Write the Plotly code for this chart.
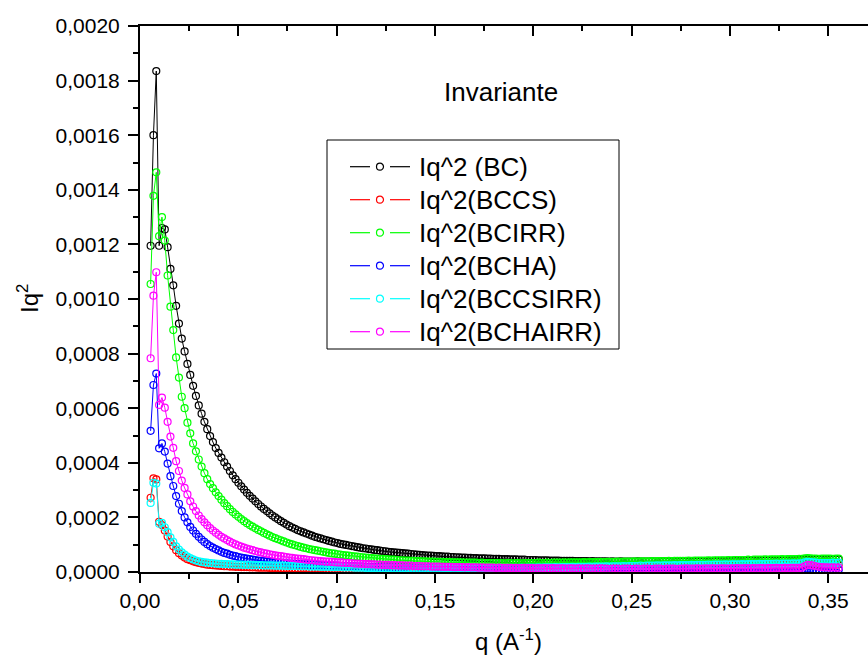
import plotly.graph_objects as go

# q values (A^-1)
q = [0.00540, 0.00684, 0.00828, 0.00972, 0.01116, 0.01260, 0.01404, 0.01548, 0.01692, 0.01836,
     0.01980, 0.02124, 0.02268, 0.02412, 0.02556, 0.02700, 0.02844, 0.02988, 0.03132, 0.03276,
     0.03420, 0.03564, 0.03708, 0.03852, 0.03996, 0.04140, 0.04284, 0.04428, 0.04572, 0.04716,
     0.04860, 0.05004, 0.05148, 0.05292, 0.05436, 0.05580, 0.05724, 0.05868, 0.06012, 0.06156,
     0.06300, 0.06444, 0.06588, 0.06732, 0.06876, 0.07020, 0.07164, 0.07308, 0.07452, 0.07596,
     0.07740, 0.07884, 0.08028, 0.08172, 0.08316, 0.08460, 0.08604, 0.08748, 0.08892, 0.09036,
     0.09180, 0.09324, 0.09468, 0.09612, 0.09756, 0.09900, 0.10044, 0.10188, 0.10332, 0.10476,
     0.10620, 0.10764, 0.10908, 0.11052, 0.11196, 0.11340, 0.11484, 0.11628, 0.11772, 0.11916,
     0.12060, 0.12204, 0.12348, 0.12492, 0.12636, 0.12780, 0.12924, 0.13068, 0.13212, 0.13356,
     0.13500, 0.13644, 0.13788, 0.13932, 0.14076, 0.14220, 0.14364, 0.14508, 0.14652, 0.14796,
     0.14940, 0.15084, 0.15228, 0.15372, 0.15516, 0.15660, 0.15804, 0.15948, 0.16092, 0.16236,
     0.16380, 0.16524, 0.16668, 0.16812, 0.16956, 0.17100, 0.17244, 0.17388, 0.17532, 0.17676,
     0.17820, 0.17964, 0.18108, 0.18252, 0.18396, 0.18540, 0.18684, 0.18828, 0.18972, 0.19116,
     0.19260, 0.19404, 0.19548, 0.19692, 0.19836, 0.19980, 0.20124, 0.20268, 0.20412, 0.20556,
     0.20700, 0.20844, 0.20988, 0.21132, 0.21276, 0.21420, 0.21564, 0.21708, 0.21852, 0.21996,
     0.22140, 0.22284, 0.22428, 0.22572, 0.22716, 0.22860, 0.23004, 0.23148, 0.23292, 0.23436,
     0.23580, 0.23724, 0.23868, 0.24012, 0.24156, 0.24300, 0.24444, 0.24588, 0.24732, 0.24876,
     0.25020, 0.25164, 0.25308, 0.25452, 0.25596, 0.25740, 0.25884, 0.26028, 0.26172, 0.26316,
     0.26460, 0.26604, 0.26748, 0.26892, 0.27036, 0.27180, 0.27324, 0.27468, 0.27612, 0.27756,
     0.27900, 0.28044, 0.28188, 0.28332, 0.28476, 0.28620, 0.28764, 0.28908, 0.29052, 0.29196,
     0.29340, 0.29484, 0.29628, 0.29772, 0.29916, 0.30060, 0.30204, 0.30348, 0.30492, 0.30636,
     0.30780, 0.30924, 0.31068, 0.31212, 0.31356, 0.31500, 0.31644, 0.31788, 0.31932, 0.32076,
     0.32220, 0.32364, 0.32508, 0.32652, 0.32796, 0.32940, 0.33084, 0.33228, 0.33372, 0.33516,
     0.33660, 0.33804, 0.33948, 0.34092, 0.34236, 0.34380, 0.34524, 0.34668, 0.34812, 0.34956,
     0.35100, 0.35244, 0.35388, 0.35532]

# Iq^2 values in units of 1e-4
iq2_bc = [11.95, 16.00, 18.35, 11.95, 12.60, 12.55, 11.90, 11.10, 10.50, 9.75,
          9.10, 8.55, 8.08, 7.62, 7.22, 6.82, 6.45, 6.10, 5.80, 5.50,
          5.23, 4.98, 4.76, 4.54, 4.36, 4.19, 4.02, 3.86, 3.70, 3.54,
          3.40, 3.27, 3.14, 3.02, 2.90, 2.79, 2.69, 2.59, 2.49, 2.40,
          2.31, 2.23, 2.15, 2.07, 2.00, 1.93, 1.86, 1.80, 1.74, 1.68,
          1.63, 1.58, 1.53, 1.49, 1.45, 1.41, 1.37, 1.33, 1.29, 1.26,
          1.23, 1.20, 1.17, 1.14, 1.11, 1.08, 1.06, 1.03, 1.01, 0.99,
          0.97, 0.95, 0.93, 0.91, 0.89, 0.87, 0.86, 0.84, 0.83, 0.81,
          0.80, 0.78, 0.77, 0.76, 0.74, 0.73, 0.72, 0.71, 0.70, 0.69,
          0.68, 0.67, 0.66, 0.65, 0.64, 0.63, 0.62, 0.61, 0.60, 0.60,
          0.59, 0.58, 0.58, 0.57, 0.56, 0.56, 0.55, 0.55, 0.54, 0.54,
          0.53, 0.53, 0.52, 0.52, 0.51, 0.51, 0.50, 0.50, 0.50, 0.49,
          0.49, 0.48, 0.48, 0.48, 0.47, 0.47, 0.47, 0.46, 0.46, 0.46,
          0.45, 0.45, 0.45, 0.44, 0.44, 0.44, 0.44, 0.43, 0.43, 0.43,
          0.43, 0.42, 0.42, 0.42, 0.42, 0.41, 0.41, 0.41, 0.41, 0.41,
          0.40, 0.40, 0.40, 0.40, 0.40, 0.39, 0.40, 0.39, 0.39, 0.39,
          0.39, 0.39, 0.38, 0.39, 0.38, 0.38, 0.39, 0.38, 0.38, 0.38,
          0.38, 0.38, 0.39, 0.38, 0.38, 0.38, 0.38, 0.39, 0.38, 0.38,
          0.38, 0.39, 0.38, 0.39, 0.38, 0.39, 0.39, 0.38, 0.39, 0.39,
          0.39, 0.39, 0.40, 0.39, 0.39, 0.40, 0.39, 0.40, 0.40, 0.40,
          0.40, 0.40, 0.41, 0.40, 0.41, 0.40, 0.41, 0.41, 0.41, 0.41,
          0.41, 0.42, 0.41, 0.42, 0.41, 0.42, 0.42, 0.42, 0.42, 0.43,
          0.42, 0.43, 0.42, 0.43, 0.43, 0.43, 0.43, 0.44, 0.43, 0.44,
          0.44, 0.46, 0.47, 0.46, 0.45, 0.45, 0.45, 0.45, 0.45, 0.46,
          0.45, 0.46, 0.46, 0.46]

iq2_bccs = [2.72, 3.43, 3.39, 1.84, 1.72, 1.52, 1.30, 1.10, 0.94, 0.80,
            0.69, 0.60, 0.53, 0.47, 0.43, 0.39, 0.36, 0.33, 0.31, 0.29,
            0.27, 0.26, 0.25, 0.24, 0.23, 0.22, 0.21, 0.21, 0.20, 0.20,
            0.19, 0.19, 0.18, 0.18, 0.18, 0.17, 0.17, 0.17, 0.16, 0.16,
            0.16, 0.16, 0.15, 0.15, 0.15, 0.15, 0.14, 0.14, 0.14, 0.14,
            0.14, 0.13, 0.13, 0.13, 0.13, 0.13, 0.12, 0.12, 0.12, 0.12,
            0.12, 0.12, 0.11, 0.11, 0.11, 0.11, 0.11, 0.11, 0.10, 0.10,
            0.10, 0.10, 0.10, 0.10, 0.10, 0.10, 0.09, 0.09, 0.09, 0.09,
            0.09, 0.09, 0.09, 0.09, 0.09, 0.09, 0.09, 0.09, 0.09, 0.09,
            0.09, 0.09, 0.09, 0.09, 0.09, 0.09, 0.09, 0.09, 0.09, 0.09,
            0.09, 0.09, 0.09, 0.09, 0.09, 0.10, 0.09, 0.10, 0.10, 0.10,
            0.10, 0.10, 0.10, 0.10, 0.10, 0.10, 0.11, 0.10, 0.11, 0.11,
            0.11, 0.11, 0.11, 0.11, 0.11, 0.12, 0.11, 0.12, 0.12, 0.12,
            0.12, 0.12, 0.12, 0.12, 0.13, 0.12, 0.13, 0.13, 0.13, 0.13,
            0.13, 0.13, 0.14, 0.13, 0.14, 0.14, 0.14, 0.14, 0.14, 0.15,
            0.14, 0.15, 0.15, 0.15, 0.15, 0.15, 0.16, 0.15, 0.16, 0.16,
            0.16, 0.16, 0.16, 0.17, 0.16, 0.17, 0.17, 0.17, 0.17, 0.17,
            0.18, 0.17, 0.18, 0.18, 0.18, 0.18, 0.18, 0.19, 0.18, 0.19,
            0.19, 0.19, 0.19, 0.19, 0.20, 0.19, 0.20, 0.20, 0.20, 0.20,
            0.20, 0.21, 0.20, 0.21, 0.21, 0.21, 0.21, 0.21, 0.22, 0.21,
            0.22, 0.22, 0.22, 0.22, 0.22, 0.23, 0.22, 0.23, 0.23, 0.23,
            0.23, 0.23, 0.24, 0.23, 0.24, 0.24, 0.24, 0.24, 0.24, 0.25,
            0.24, 0.25, 0.25, 0.25, 0.25, 0.25, 0.26, 0.25, 0.26, 0.26,
            0.26, 0.29, 0.31, 0.30, 0.29, 0.28, 0.27, 0.27, 0.27, 0.27,
            0.27, 0.28, 0.27, 0.28]

iq2_bcirr = [10.55, 13.78, 14.64, 12.30, 13.00, 12.14, 10.86, 9.72, 8.86, 7.86,
             7.12, 6.42, 6.00, 5.47, 5.08, 4.71, 4.42, 4.12, 3.86, 3.62,
             3.40, 3.22, 3.07, 2.92, 2.78, 2.65, 2.52, 2.41, 2.30, 2.20,
             2.11, 2.02, 1.94, 1.86, 1.79, 1.72, 1.66, 1.60, 1.54, 1.49,
             1.43, 1.38, 1.33, 1.28, 1.24, 1.20, 1.16, 1.12, 1.08, 1.04,
             1.01, 0.98, 0.95, 0.92, 0.89, 0.87, 0.84, 0.82, 0.80, 0.78,
             0.76, 0.74, 0.72, 0.70, 0.68, 0.67, 0.65, 0.64, 0.62, 0.61,
             0.60, 0.58, 0.57, 0.56, 0.55, 0.54, 0.53, 0.52, 0.51, 0.50,
             0.49, 0.48, 0.48, 0.47, 0.46, 0.45, 0.45, 0.44, 0.43, 0.43,
             0.42, 0.42, 0.41, 0.41, 0.40, 0.40, 0.39, 0.39, 0.38, 0.38,
             0.38, 0.37, 0.37, 0.37, 0.36, 0.36, 0.36, 0.35, 0.35, 0.35,
             0.35, 0.34, 0.34, 0.34, 0.34, 0.34, 0.33, 0.34, 0.33, 0.33,
             0.33, 0.33, 0.33, 0.33, 0.33, 0.32, 0.33, 0.33, 0.32, 0.33,
             0.33, 0.32, 0.33, 0.33, 0.33, 0.33, 0.33, 0.34, 0.33, 0.33,
             0.34, 0.33, 0.34, 0.34, 0.34, 0.34, 0.35, 0.34, 0.35, 0.35,
             0.35, 0.35, 0.35, 0.36, 0.35, 0.36, 0.36, 0.36, 0.36, 0.37,
             0.36, 0.37, 0.37, 0.37, 0.37, 0.38, 0.37, 0.38, 0.38, 0.38,
             0.38, 0.39, 0.38, 0.39, 0.39, 0.39, 0.39, 0.40, 0.39, 0.40,
             0.40, 0.40, 0.40, 0.41, 0.40, 0.41, 0.41, 0.41, 0.41, 0.41,
             0.42, 0.41, 0.42, 0.42, 0.42, 0.42, 0.42, 0.43, 0.42, 0.43,
             0.43, 0.43, 0.43, 0.43, 0.44, 0.43, 0.44, 0.44, 0.44, 0.44,
             0.44, 0.45, 0.44, 0.45, 0.45, 0.45, 0.45, 0.46, 0.45, 0.46,
             0.46, 0.46, 0.46, 0.47, 0.46, 0.47, 0.47, 0.47, 0.47, 0.48,
             0.48, 0.50, 0.51, 0.50, 0.49, 0.49, 0.48, 0.49, 0.49, 0.49,
             0.49, 0.48, 0.49, 0.49]

iq2_bcha = [5.17, 6.85, 7.27, 4.53, 4.71, 4.41, 3.97, 3.51, 3.15, 2.78,
            2.50, 2.23, 2.00, 1.82, 1.65, 1.52, 1.40, 1.29, 1.19, 1.10,
            1.02, 0.95, 0.89, 0.84, 0.79, 0.74, 0.70, 0.67, 0.63, 0.60,
            0.58, 0.55, 0.53, 0.51, 0.49, 0.47, 0.45, 0.44, 0.42, 0.41,
            0.40, 0.38, 0.37, 0.36, 0.35, 0.34, 0.34, 0.33, 0.32, 0.31,
            0.31, 0.30, 0.29, 0.29, 0.28, 0.28, 0.27, 0.27, 0.26, 0.26,
            0.25, 0.25, 0.24, 0.24, 0.24, 0.23, 0.23, 0.22, 0.22, 0.22,
            0.21, 0.21, 0.21, 0.20, 0.20, 0.20, 0.19, 0.19, 0.19, 0.18,
            0.18, 0.18, 0.17, 0.17, 0.17, 0.16, 0.16, 0.16, 0.15, 0.15,
            0.15, 0.14, 0.14, 0.14, 0.13, 0.13, 0.13, 0.12, 0.12, 0.12,
            0.11, 0.11, 0.11, 0.10, 0.10, 0.10, 0.10, 0.09, 0.09, 0.09,
            0.09, 0.08, 0.08, 0.08, 0.08, 0.08, 0.07, 0.07, 0.07, 0.07,
            0.07, 0.07, 0.06, 0.07, 0.06, 0.06, 0.06, 0.06, 0.06, 0.06,
            0.06, 0.05, 0.06, 0.06, 0.05, 0.06, 0.05, 0.06, 0.05, 0.05,
            0.06, 0.05, 0.05, 0.06, 0.05, 0.05, 0.05, 0.06, 0.05, 0.05,
            0.05, 0.05, 0.06, 0.05, 0.05, 0.05, 0.05, 0.06, 0.05, 0.05,
            0.05, 0.06, 0.05, 0.05, 0.06, 0.05, 0.05, 0.06, 0.05, 0.06,
            0.05, 0.06, 0.05, 0.06, 0.06, 0.05, 0.06, 0.06, 0.05, 0.06,
            0.06, 0.06, 0.05, 0.06, 0.06, 0.06, 0.06, 0.05, 0.06, 0.06,
            0.06, 0.06, 0.07, 0.06, 0.06, 0.06, 0.07, 0.06, 0.06, 0.07,
            0.06, 0.07, 0.06, 0.07, 0.07, 0.06, 0.07, 0.07, 0.07, 0.06,
            0.07, 0.07, 0.07, 0.07, 0.08, 0.07, 0.07, 0.07, 0.08, 0.07,
            0.08, 0.07, 0.08, 0.08, 0.08, 0.08, 0.08, 0.08, 0.08, 0.09,
            0.09, 0.11, 0.12, 0.11, 0.10, 0.09, 0.09, 0.09, 0.09, 0.09,
            0.09, 0.09, 0.10, 0.09]

iq2_bccsirr = [2.53, 3.27, 3.24, 1.77, 1.80, 1.64, 1.46, 1.27, 1.10, 0.94,
               0.82, 0.72, 0.64, 0.56, 0.51, 0.46, 0.42, 0.39, 0.37, 0.35,
               0.34, 0.33, 0.32, 0.31, 0.30, 0.30, 0.29, 0.29, 0.28, 0.28,
               0.27, 0.27, 0.27, 0.26, 0.26, 0.26, 0.25, 0.25, 0.25, 0.25,
               0.24, 0.24, 0.24, 0.24, 0.23, 0.23, 0.23, 0.23, 0.22, 0.22,
               0.22, 0.22, 0.21, 0.21, 0.21, 0.21, 0.20, 0.20, 0.20, 0.20,
               0.19, 0.19, 0.19, 0.19, 0.18, 0.18, 0.18, 0.18, 0.17, 0.17,
               0.17, 0.17, 0.16, 0.16, 0.16, 0.16, 0.15, 0.15, 0.15, 0.15,
               0.15, 0.14, 0.14, 0.14, 0.14, 0.14, 0.13, 0.13, 0.13, 0.13,
               0.13, 0.13, 0.12, 0.12, 0.12, 0.12, 0.12, 0.12, 0.12, 0.12,
               0.12, 0.12, 0.12, 0.12, 0.12, 0.12, 0.12, 0.12, 0.12, 0.13,
               0.12, 0.13, 0.13, 0.13, 0.13, 0.13, 0.13, 0.14, 0.13, 0.14,
               0.14, 0.14, 0.14, 0.14, 0.15, 0.14, 0.15, 0.15, 0.15, 0.15,
               0.15, 0.16, 0.15, 0.16, 0.16, 0.16, 0.16, 0.17, 0.16, 0.17,
               0.17, 0.17, 0.17, 0.18, 0.17, 0.18, 0.18, 0.18, 0.18, 0.19,
               0.18, 0.19, 0.19, 0.19, 0.19, 0.20, 0.19, 0.20, 0.20, 0.20,
               0.20, 0.21, 0.20, 0.21, 0.21, 0.21, 0.21, 0.22, 0.21, 0.22,
               0.22, 0.22, 0.22, 0.23, 0.22, 0.23, 0.23, 0.23, 0.23, 0.24,
               0.23, 0.24, 0.24, 0.24, 0.24, 0.25, 0.24, 0.25, 0.25, 0.25,
               0.25, 0.26, 0.25, 0.26, 0.26, 0.26, 0.26, 0.27, 0.26, 0.27,
               0.27, 0.27, 0.27, 0.28, 0.27, 0.28, 0.28, 0.28, 0.28, 0.29,
               0.28, 0.29, 0.29, 0.29, 0.29, 0.30, 0.29, 0.30, 0.30, 0.30,
               0.30, 0.31, 0.30, 0.31, 0.31, 0.31, 0.31, 0.32, 0.31, 0.32,
               0.32, 0.35, 0.37, 0.36, 0.35, 0.34, 0.33, 0.33, 0.33, 0.33,
               0.33, 0.34, 0.33, 0.34]

iq2_bchairr = [7.83, 10.12, 10.98, 6.12, 6.39, 6.02, 5.50, 4.96, 4.55, 4.06,
               3.70, 3.35, 3.08, 2.84, 2.59, 2.40, 2.23, 2.07, 1.94, 1.82,
               1.71, 1.61, 1.52, 1.44, 1.36, 1.29, 1.23, 1.17, 1.11, 1.06,
               1.01, 0.97, 0.93, 0.89, 0.86, 0.83, 0.80, 0.77, 0.74, 0.72,
               0.69, 0.67, 0.65, 0.63, 0.61, 0.59, 0.58, 0.56, 0.55, 0.53,
               0.52, 0.50, 0.49, 0.48, 0.47, 0.45, 0.44, 0.43, 0.42, 0.41,
               0.40, 0.39, 0.38, 0.38, 0.37, 0.36, 0.35, 0.35, 0.34, 0.33,
               0.33, 0.32, 0.31, 0.31, 0.30, 0.30, 0.29, 0.29, 0.28, 0.28,
               0.27, 0.27, 0.26, 0.26, 0.26, 0.25, 0.25, 0.24, 0.24, 0.24,
               0.23, 0.23, 0.23, 0.22, 0.22, 0.22, 0.21, 0.21, 0.21, 0.20,
               0.20, 0.20, 0.20, 0.19, 0.19, 0.19, 0.19, 0.18, 0.18, 0.18,
               0.18, 0.17, 0.18, 0.17, 0.17, 0.17, 0.16, 0.17, 0.16, 0.16,
               0.16, 0.16, 0.15, 0.16, 0.15, 0.15, 0.15, 0.15, 0.14, 0.15,
               0.14, 0.14, 0.15, 0.14, 0.14, 0.14, 0.13, 0.14, 0.13, 0.14,
               0.13, 0.13, 0.14, 0.13, 0.13, 0.13, 0.13, 0.12, 0.13, 0.13,
               0.12, 0.13, 0.12, 0.12, 0.13, 0.12, 0.12, 0.12, 0.12, 0.13,
               0.12, 0.12, 0.11, 0.12, 0.12, 0.12, 0.11, 0.12, 0.12, 0.12,
               0.11, 0.12, 0.12, 0.11, 0.12, 0.12, 0.12, 0.11, 0.12, 0.12,
               0.12, 0.11, 0.12, 0.12, 0.12, 0.12, 0.11, 0.12, 0.12, 0.13,
               0.12, 0.12, 0.12, 0.13, 0.12, 0.12, 0.13, 0.12, 0.13, 0.13,
               0.12, 0.13, 0.13, 0.13, 0.12, 0.13, 0.13, 0.14, 0.13, 0.13,
               0.14, 0.13, 0.13, 0.14, 0.13, 0.14, 0.14, 0.13, 0.14, 0.14,
               0.14, 0.15, 0.14, 0.14, 0.15, 0.14, 0.15, 0.15, 0.15, 0.15,
               0.16, 0.22, 0.26, 0.25, 0.23, 0.21, 0.19, 0.18, 0.17, 0.17,
               0.16, 0.17, 0.16, 0.16]

names = ["Iq^2 (BC)", "Iq^2(BCCS)", "Iq^2(BCIRR)", "Iq^2(BCHA)", "Iq^2(BCCSIRR)", "Iq^2(BCHAIRR)"]
series = [iq2_bc, iq2_bccs, iq2_bcirr, iq2_bcha, iq2_bccsirr, iq2_bchairr]
colors = ["#000000", "#FF0000", "#00FF00", "#0000FF", "#00FFFF", "#FF00FF"]

FONT = "Liberation Sans, Arial, sans-serif"

# plot area in pixels (for placing the hand-drawn legend box)
PL, PR, PT, PB = 140, 868, 26, 572


def px(xpix):
    return (xpix - PL) / (PR - PL)


def py(ypix):
    return (PB - ypix) / (PB - PT)


fig = go.Figure()
for name, vals, col in zip(names, series, colors):
    n = min(len(q), len(vals))
    fig.add_trace(go.Scatter(
        x=q[:n], y=[v * 1e-4 for v in vals[:n]],
        mode="lines+markers", name=name, showlegend=False,
        line=dict(color=col, width=1),
        marker=dict(symbol="circle-open", size=7, color=col, line=dict(width=1.2, color=col)),
    ))

# invisible trace for top mirror axis
fig.add_trace(go.Scatter(x=[0.1], y=[0.001], xaxis="x2", mode="markers",
                         marker=dict(opacity=0), showlegend=False, hoverinfo="skip"))

# legend drawn as box + sample lines/circles + text
shapes = [dict(type="rect", xref="paper", yref="paper",
               x0=px(327), x1=px(619), y0=py(140), y1=py(349),
               line=dict(color="black", width=1), fillcolor="white", layer="above")]
annotations = []
row0, rowstep = 166.7, 33.0
for k, (name, col) in enumerate(zip(names, colors)):
    yy = row0 + k * rowstep
    shapes.append(dict(type="line", xref="paper", yref="paper",
                       x0=px(350), x1=px(370), y0=py(yy), y1=py(yy),
                       line=dict(color=col, width=1.2), layer="above"))
    shapes.append(dict(type="line", xref="paper", yref="paper",
                       x0=px(390), x1=px(410), y0=py(yy), y1=py(yy),
                       line=dict(color=col, width=1.2), layer="above"))
    shapes.append(dict(type="circle", xref="paper", yref="paper",
                       x0=px(376.5), x1=px(383.5), y0=py(yy + 3.5), y1=py(yy - 3.5),
                       line=dict(color=col, width=1.2), layer="above"))
    annotations.append(dict(text=name, x=px(417), y=py(yy), xref="paper", yref="paper",
                            xanchor="left", yanchor="middle", showarrow=False,
                            font=dict(family=FONT, size=26, color="black")))

annotations += [
    dict(text="Invariante", x=0.496, y=0.879, xref="paper", yref="paper",
         xanchor="center", yanchor="middle", showarrow=False,
         font=dict(family=FONT, size=26, color="black")),
    dict(text="q (A<sup>-1</sup>)", x=0.5055, y=-0.1245, xref="paper", yref="paper",
         xanchor="center", yanchor="middle", showarrow=False,
         font=dict(family=FONT, size=24, color="black")),
    dict(text="Iq<sup>2</sup>", x=-0.1538, y=0.5, xref="paper", yref="paper",
         xanchor="center", yanchor="middle", showarrow=False, textangle=-90,
         font=dict(family=FONT, size=24, color="black")),
]

xr = [0, 0.3702]
fig.update_layout(
    width=868, height=660,
    margin=dict(l=PL, r=868 - PR, t=PT, b=660 - PB),
    paper_bgcolor="white", plot_bgcolor="white",
    separators=",.",
    font=dict(family=FONT, color="black", size=20),
    showlegend=False,
    xaxis=dict(
        range=xr, showgrid=False, zeroline=False,
        showline=True, linecolor="black", linewidth=2,
        ticks="outside", ticklen=9, tickwidth=2, tickcolor="black",
        dtick=0.05, tick0=0, tickformat=".2f",
        tickfont=dict(family=FONT, size=21),
        minor=dict(ticks="outside", ticklen=5, tickwidth=2, tickcolor="black", dtick=0.025),
    ),
    xaxis2=dict(
        range=xr, overlaying="x", side="top", anchor="y",
        showgrid=False, zeroline=False, showticklabels=False,
        showline=True, linecolor="black", linewidth=2,
        ticks="inside", ticklen=10, tickwidth=2, tickcolor="black",
        dtick=0.05, tick0=0,
        minor=dict(ticks="inside", ticklen=5, tickwidth=2, tickcolor="black", dtick=0.025),
    ),
    yaxis=dict(
        range=[0, 0.002], showgrid=False, zeroline=False,
        showline=True, linecolor="black", linewidth=2,
        ticks="outside", ticklen=10, tickwidth=2, tickcolor="black",
        dtick=0.0002, tick0=0, tickformat=".4f", ticklabelstandoff=4,
        tickfont=dict(family=FONT, size=21),
        minor=dict(ticks="outside", ticklen=5, tickwidth=2, tickcolor="black", dtick=0.0001),
    ),
    shapes=shapes,
    annotations=annotations,
)

fig.write_html("out.html")
